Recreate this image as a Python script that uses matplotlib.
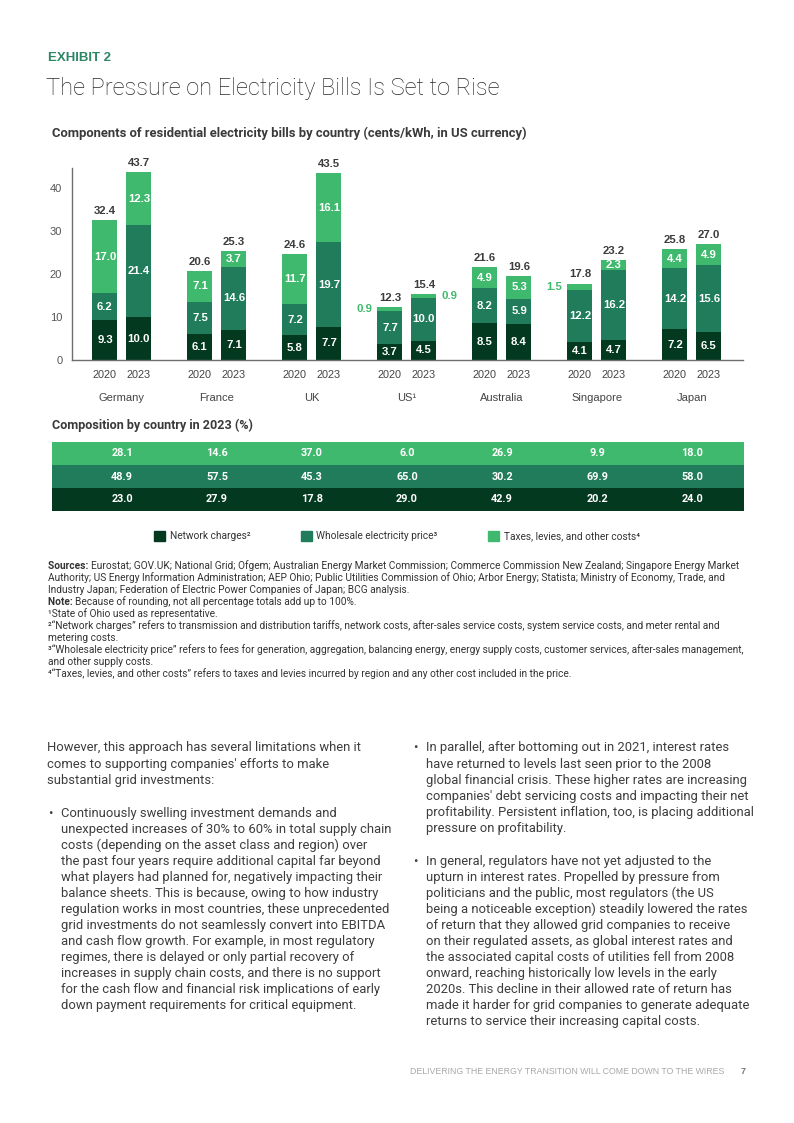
import matplotlib
matplotlib.use("Agg")
import numpy as np
import matplotlib.pyplot as plt
from matplotlib.patches import Patch

W, H = 794, 1123
ROBOTO = ["Roboto", "DejaVu Sans"]
SANS = ["Liberation Sans", "DejaVu Sans"]
plt.rcParams["font.family"] = ROBOTO

C_NET = "#033a1f"
C_WHO = "#207c5b"
C_TAX = "#3fb96d"

countries = ["Germany", "France", "UK", "US\u00b9", "Australia", "Singapore", "Japan"]
years = ["2020", "2023"]
network_2020 = [9.3, 6.1, 5.8, 3.7, 8.5, 4.1, 7.2]
network_2023 = [10.0, 7.1, 7.7, 4.5, 8.4, 4.7, 6.5]
wholesale_2020 = [6.2, 7.5, 7.2, 7.7, 8.2, 12.2, 14.2]
wholesale_2023 = [21.4, 14.6, 19.7, 10.0, 5.9, 16.2, 15.6]
taxes_2020 = [17.0, 7.1, 11.7, 0.9, 4.9, 1.5, 4.4]
taxes_2023 = [12.3, 3.7, 16.1, 0.9, 5.3, 2.3, 4.9]
total_2020 = [32.4, 20.6, 24.6, 12.3, 21.6, 17.8, 25.8]
total_2023 = [43.7, 25.3, 43.5, 15.4, 19.6, 23.2, 27.0]

pct_taxes = [28.1, 14.6, 37.0, 6.0, 26.9, 9.9, 18.0]
pct_wholesale = [48.9, 57.5, 45.3, 65.0, 30.2, 69.9, 58.0]
pct_network = [23.0, 27.9, 17.8, 29.0, 42.9, 20.2, 24.0]

fig = plt.figure(figsize=(W / 100, H / 100), dpi=100)
fig.patch.set_facecolor("white")
renderer = fig.canvas.get_renderer()


def ftext(x, y, s, **kw):
    kw.setdefault("va", "center")
    return fig.text(x / W, 1 - y / H, s, **kw)


def fit(s, target_px, **kw):
    # font size that makes s about target_px wide
    t = fig.text(0, 0, s, fontsize=10, **kw)
    w = t.get_window_extent(renderer).width
    t.remove()
    return 10 * target_px / w


# header
ftext(48, 58, "EXHIBIT 2", fontsize=9.5, fontweight="bold", color="#2c8765", family=SANS)
ftext(46, 89, "The Pressure on Electricity Bills Is Set to Rise", fontsize=17,
      color="#2a2a2a", fontweight="light")
sub1 = "Components of residential electricity bills by country (cents/kWh, in US currency)"
ftext(52, 133, sub1, fontsize=fit(sub1, 475, fontweight="bold"), fontweight="bold",
      color="#3a3a3a")

# stacked bar chart
ax = fig.add_axes([72 / W, 1 - 360 / H, (743 - 72) / W, (360 - 168) / H])
x = np.arange(len(countries))
off, bw = 0.179, 0.263
series = [
    (x - off, network_2020, wholesale_2020, taxes_2020, total_2020, -1),
    (x + off, network_2023, wholesale_2023, taxes_2023, total_2023, 1),
]
for xs, net, who, tax, tot, side in series:
    net, who, tax = np.array(net), np.array(who), np.array(tax)
    ax.bar(xs, net, bw, color=C_NET)
    ax.bar(xs, who, bw, bottom=net, color=C_WHO)
    ax.bar(xs, tax, bw, bottom=net + who, color=C_TAX)
    for xi, n, w, t, tt in zip(xs, net, who, tax, tot):
        for v, b in ((n, 0), (w, n), (t, n + w)):
            if v >= 2:
                ax.text(xi, b + v / 2, f"{v:.1f}", ha="center", va="center", color="white",
                        fontsize=8.2, fontweight="bold", family=SANS)
            else:
                ax.annotate(f"{v:.1f}", (xi + side * bw / 2, b + v / 2), xytext=(side * 3.5, 0),
                            textcoords="offset points", ha="left" if side > 0 else "right",
                            va="center", color=C_TAX, fontsize=8.2, fontweight="bold", family=SANS)
        ax.annotate(f"{tt:.1f}", (xi, n + w + t), xytext=(0, 3), textcoords="offset points",
                    ha="center", va="bottom", color="#3c3c3c", fontsize=8.2, fontweight="bold",
                    family=SANS)

ax.set_xlim(-0.526, 6.537)
ax.set_ylim(0, 44.7)
ax.set_yticks([0, 10, 20, 30, 40])
ax.tick_params(axis="y", length=0, pad=7, labelsize=8, labelcolor="#555555")
ax.set_xticks(np.concatenate([x - off, x + off]))
ax.set_xticklabels(years[:1] * len(x) + years[1:] * len(x))
ax.tick_params(axis="x", length=0, pad=7, labelsize=7.8, labelcolor="#444444")
for lab in ax.get_xticklabels() + ax.get_yticklabels():
    lab.set_family(SANS)
for i, c in enumerate(countries):
    ax.text(i, -0.198, c, transform=ax.get_xaxis_transform(), ha="center", va="center",
            fontsize=8, color="#444444", family=SANS)
for s in ("top", "right"):
    ax.spines[s].set_visible(False)
for s in ("left", "bottom"):
    ax.spines[s].set_color("#6e6e6e")
    ax.spines[s].set_linewidth(1.0)

# composition table
sub2 = "Composition by country in 2023 (%)"
ftext(52, 425, sub2, fontsize=fit(sub2, 203, fontweight="bold"), fontweight="bold",
      color="#3a3a3a")
tx = fig.add_axes([52 / W, 1 - 511 / H, (744 - 52) / W, (511 - 442) / H])
xl = (-0.737, 6.547)
rows = [(pct_network, C_NET), (pct_wholesale, C_WHO), (pct_taxes, C_TAX)]
for r, (vals, col) in enumerate(rows):
    tx.barh(r, xl[1] - xl[0], height=1, left=xl[0], color=col)
    for i, v in enumerate(vals):
        tx.text(i, r, f"{v:.1f}", ha="center", va="center", color="white", fontsize=7.8,
                fontweight="bold")
tx.set_xlim(*xl)
tx.set_ylim(-0.5, 2.5)
tx.axis("off")

leg_labels = ["Network charges\u00b2", "Wholesale electricity price\u00b3",
              "Taxes, levies, and other costs\u2074"]
leg_fs = fit(leg_labels[0], 80)
handles = [Patch(color=c, label=l) for c, l in zip((C_NET, C_WHO, C_TAX), leg_labels)]
fpx = leg_fs * 100 / 72
fig.legend(handles=handles, loc="center left", bbox_to_anchor=(154 / W, 1 - 536 / H), ncol=3,
           frameon=False, fontsize=leg_fs, handlelength=11 / fpx, handleheight=11 / fpx,
           handletextpad=5 / fpx, columnspacing=50 / fpx, borderpad=0, borderaxespad=0,
           labelcolor="#333333")

# notes
notes = [
    ("Sources: ", "Eurostat; GOV.UK; National Grid; Ofgem; Australian Energy Market Commission; Commerce Commission New Zealand; Singapore Energy Market"),
    ("", "Authority; US Energy Information Administration; AEP Ohio; Public Utilities Commission of Ohio; Arbor Energy; Statista; Ministry of Economy, Trade, and"),
    ("", "Industry Japan; Federation of Electric Power Companies of Japan; BCG analysis."),
    ("Note: ", "Because of rounding, not all percentage totals add up to 100%."),
    ("", "\u00b9State of Ohio used as representative."),
    ("", "\u00b2\u201cNetwork charges\u201d refers to transmission and distribution tariffs, network costs, after-sales service costs, system service costs, and meter rental and"),
    ("", "metering costs."),
    ("", "\u00b3\u201cWholesale electricity price\u201d refers to fees for generation, aggregation, balancing energy, energy supply costs, customer services, after-sales management,"),
    ("", "and other supply costs."),
    ("", "\u2074\u201cTaxes, levies, and other costs\u201d refers to taxes and levies incurred by region and any other cost included in the price."),
]
note_fs = fit(notes[0][0] + notes[0][1], 686)
for k, (bold, rest) in enumerate(notes):
    y = 566 + 12 * k
    x0 = 48
    if bold:
        t = ftext(x0, y, bold, fontsize=note_fs, fontweight="bold", color="#333333")
        x0 += t.get_window_extent(renderer).width
    ftext(x0, y, rest, fontsize=note_fs, color="#333333")

# body text
left_intro = ["However, this approach has several limitations when it",
              "comes to supporting companies' efforts to make",
              "substantial grid investments:"]
left_bullet = ["Continuously swelling investment demands and",
               "unexpected increases of 30% to 60% in total supply chain",
               "costs (depending on the asset class and region) over",
               "the past four years require additional capital far beyond",
               "what players had planned for, negatively impacting their",
               "balance sheets. This is because, owing to how industry",
               "regulation works in most countries, these unprecedented",
               "grid investments do not seamlessly convert into EBITDA",
               "and cash flow growth. For example, in most regulatory",
               "regimes, there is delayed or only partial recovery of",
               "increases in supply chain costs, and there is no support",
               "for the cash flow and financial risk implications of early",
               "down payment requirements for critical equipment."]
right_b1 = ["In parallel, after bottoming out in 2021, interest rates",
            "have returned to levels last seen prior to the 2008",
            "global financial crisis. These higher rates are increasing",
            "companies' debt servicing costs and impacting their net",
            "profitability. Persistent inflation, too, is placing additional",
            "pressure on profitability."]
right_b2 = ["In general, regulators have not yet adjusted to the",
            "upturn in interest rates. Propelled by pressure from",
            "politicians and the public, most regulators (the US",
            "being a noticeable exception) steadily lowered the rates",
            "of return that they allowed grid companies to receive",
            "on their regulated assets, as global interest rates and",
            "the associated capital costs of utilities fell from 2008",
            "onward, reaching historically low levels in the early",
            "2020s. This decline in their allowed rate of return has",
            "made it harder for grid companies to generate adequate",
            "returns to service their increasing capital costs."]
body_fs = fit(left_bullet[3], 318)
BODY = dict(fontsize=body_fs, color="#3d3d3d")
LS = 16.05


def block(lines, x0, y0, bullet_x=None):
    if bullet_x is not None:
        ftext(bullet_x, y0, "\u2022", **BODY)
    for k, s in enumerate(lines):
        ftext(x0, y0 + LS * k, s, **BODY)


block(left_intro, 47, 748)
block(left_bullet, 61, 813, bullet_x=48)
block(right_b1, 426, 748, bullet_x=413)
block(right_b2, 426, 861, bullet_x=413)

# footer
ftext(410, 1071, "DELIVERING THE ENERGY TRANSITION WILL COME DOWN TO THE WIRES", fontsize=6.3,
      color="#a8a8a8", family=SANS)
ftext(741, 1071, "7", fontsize=6.5, color="#777777", fontweight="bold", family=SANS)

fig.savefig("out.png", dpi=100, facecolor="white")
